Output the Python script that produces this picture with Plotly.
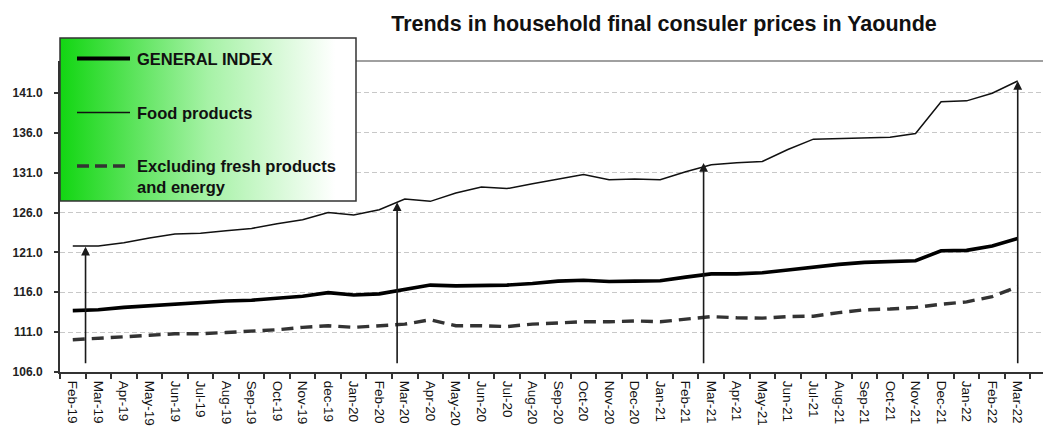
import base64
import plotly.graph_objects as go

# ---------------- data ----------------
months = ["Feb-19", "Mar-19", "Apr-19", "May-19", "Jun-19", "Jul-19", "Aug-19", "Sep-19",
          "Oct-19", "Nov-19", "dec-19", "Jan-20", "Feb-20", "Mar-20", "Apr-20", "May-20",
          "Jun-20", "Jul-20", "Aug-20", "Sep-20", "Oct-20", "Nov-20", "Dec-20", "Jan-21",
          "Feb-21", "Mar-21", "Apr-21", "May-21", "Jun-21", "Jul-21", "Aug-21", "Sep-21",
          "Oct-21", "Nov-21", "Dec-21", "Jan-22", "Feb-22", "Mar-22"]

general_index = [113.7, 113.8, 114.1, 114.3, 114.6, 114.7, 114.9, 115.0, 115.25, 115.5,
                 115.95, 115.65, 115.8, 116.4, 116.9, 116.8, 116.85, 116.9, 117.1, 117.4,
                 117.5, 117.35, 117.4, 117.45, 117.9, 118.3, 118.3, 118.45, 118.8, 119.2,
                 119.5, 119.75, 119.8, 119.95, 121.2, 121.25, 121.8, 122.75]

food_products = [121.8, 121.8, 122.2, 122.8, 123.3, 123.4, 123.7, 124.0, 124.6, 125.1,
                 126.0, 125.7, 126.35, 127.7, 127.4, 128.45, 129.2, 129.0, 129.6, 130.2,
                 130.75, 130.1, 130.2, 130.1, 131.1, 132.0, 132.25, 132.4, 133.9, 135.2,
                 135.3, 135.4, 135.45, 135.9, 139.9, 140.0, 140.95, 142.5]

excl_fresh_energy = [110.05, 110.2, 110.45, 110.6, 110.8, 110.8, 110.95, 111.1, 111.3, 111.6,
                     111.8, 111.6, 111.75, 112.0, 112.55, 111.8, 111.8, 111.7, 112.0, 112.15,
                     112.3, 112.3, 112.4, 112.3, 112.6, 112.95, 112.8, 112.75, 112.95, 113.0,
                     113.45, 113.8, 113.9, 114.1, 114.5, 114.8, 115.45, 116.7]

y_ticks = [106, 111, 116, 121, 126, 131, 136, 141]

series_names = ["GENERAL INDEX", "Food products", "Excluding fresh products<br>and energy"]
title_text = "Trends in household final consuler prices in Yaounde"

# arrows (decoration): category-index position, base value, tip value
arrow_pos = [0.5, 12.7, 24.7, 37.0]
arrow_tip = [121.7, 127.3, 132.2, 142.5]
arrow_base = 106.9

# ---------------- layout geometry ----------------
W, H = 1043, 429
ML, MR, MT, MB = 60, 0, 61, 57
PW, PH = W - ML - MR, H - MT - MB


def px_x(p):
    return (p - ML) / PW


def px_y(p):
    return (H - MB - p) / PH


FONT = "Arial, 'Liberation Sans', sans-serif"

fig = go.Figure()

fig.add_trace(go.Scatter(x=months, y=excl_fresh_energy, mode="lines", name=series_names[2],
                         line=dict(color="#333333", width=3.4, dash="12px,7px"),
                         showlegend=False, hoverinfo="skip"))
fig.add_trace(go.Scatter(x=months, y=food_products, mode="lines", name=series_names[1],
                         line=dict(color="#111111", width=1.5),
                         showlegend=False, hoverinfo="skip"))
fig.add_trace(go.Scatter(x=months, y=general_index, mode="lines", name=series_names[0],
                         line=dict(color="#000000", width=3.6),
                         showlegend=False, hoverinfo="skip"))

# arrows
for xa, yt in zip(arrow_pos, arrow_tip):
    fig.add_annotation(x=xa, y=yt, ax=xa, ay=arrow_base, xref="x", yref="y",
                       axref="x", ayref="y", showarrow=True, arrowhead=2,
                       arrowsize=1.1, arrowwidth=1.6, arrowcolor="#1a1a1a",
                       standoff=0, startstandoff=0, text="")

# legend box with green gradient
svg = ('<svg xmlns="http://www.w3.org/2000/svg" width="296" height="163" '
       'preserveAspectRatio="none"><defs><linearGradient id="g" x1="0" y1="0" x2="1" y2="0">'
       '<stop offset="0" stop-color="#12d612"/><stop offset="0.5" stop-color="#a6f2a6"/>'
       '<stop offset="0.93" stop-color="#ffffff"/>'
       '<stop offset="1" stop-color="#ffffff"/></linearGradient></defs>'
       '<rect width="296" height="163" fill="url(#g)"/></svg>')
src = "data:image/svg+xml;base64," + base64.b64encode(svg.encode()).decode()
box_l, box_r, box_t, box_b = 60, 356, 38, 201
fig.add_layout_image(source=src, xref="paper", yref="paper",
                     x=px_x(box_l), y=px_y(box_t),
                     sizex=px_x(box_r) - px_x(box_l), sizey=px_y(box_t) - px_y(box_b),
                     xanchor="left", yanchor="top", sizing="stretch", layer="above")

shapes = []
# plot top border
shapes.append(dict(type="line", xref="paper", yref="paper", x0=0, x1=1, y0=1, y1=1,
                   line=dict(color="#808080", width=1.4), layer="below"))
# legend border
shapes.append(dict(type="rect", xref="paper", yref="paper",
                   x0=px_x(box_l), x1=px_x(box_r), y0=px_y(box_b), y1=px_y(box_t),
                   line=dict(color="#333333", width=1.5), fillcolor="rgba(0,0,0,0)",
                   layer="above"))
# legend samples
leg_rows = [58.5, 112.5, 166]
leg_styles = [dict(color="#000000", width=4),
              dict(color="#111111", width=1.5),
              dict(color="#333333", width=3.6, dash="12px,6px")]
for yy, st in zip(leg_rows, leg_styles):
    shapes.append(dict(type="line", xref="paper", yref="paper",
                       x0=px_x(77), x1=px_x(130), y0=px_y(yy), y1=px_y(yy),
                       line=st, layer="above"))
fig.update_layout(shapes=shapes)

for yy, name in zip(leg_rows, series_names):
    fig.add_annotation(x=px_x(135), y=px_y(yy - 11), xref="paper", yref="paper",
                       xanchor="left", yanchor="top", showarrow=False, align="left",
                       text="<b>" + name + "</b>",
                       font=dict(family=FONT, size=16.5, color="#111111"))

fig.update_layout(
    width=W, height=H,
    margin=dict(l=ML, r=MR, t=MT, b=MB, pad=0),
    paper_bgcolor="white", plot_bgcolor="rgba(0,0,0,0)",
    template="none",
    showlegend=False,
    title=dict(text="<b>" + title_text + "</b>", x=664 / W, xanchor="center",
               y=1 - 23 / H, yanchor="middle",
               font=dict(family=FONT, size=21.5, color="#111111")),
    xaxis=dict(type="category", categoryorder="array", categoryarray=months,
               range=[-0.5, 37.99], tickson="boundaries",
               ticks="outside", ticklen=5, tickwidth=1.5, tickcolor="#333333",
               tickangle=90, automargin=False, ticklabelstandoff=4,
               tickfont=dict(family=FONT, size=13.5, color="#111111"),
               showline=True, linecolor="#333333", linewidth=2,
               showgrid=False, zeroline=False),
    yaxis=dict(range=[106, 145], tickmode="array", tickvals=y_ticks,
               ticktext=["<b>%.1f</b>" % v for v in y_ticks],
               ticks="outside", ticklen=4, tickwidth=1.5, tickcolor="#333333",
               ticklabelstandoff=9, automargin=False,
               tickfont=dict(family=FONT, size=12, color="#222222"),
               showline=True, linecolor="#333333", linewidth=2,
               showgrid=True, gridcolor="#c8c8c8", gridwidth=1, griddash="5px,3px",
               zeroline=False),
)

fig.write_html("out.html", config={"displayModeBar": False})
